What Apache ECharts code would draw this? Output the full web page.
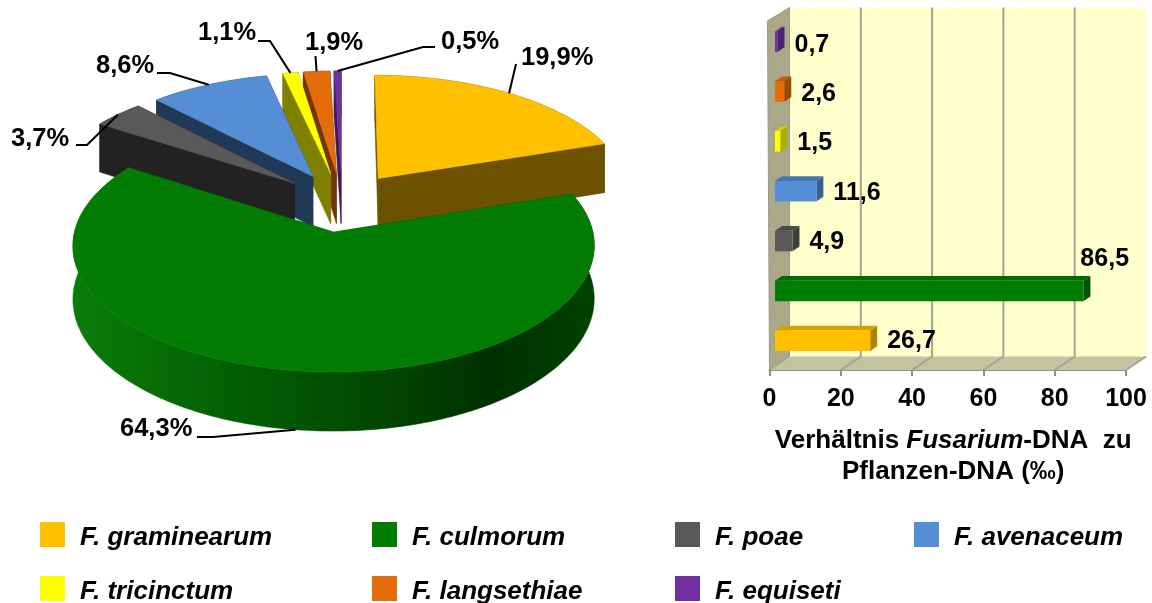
<!DOCTYPE html>
<html><head><meta charset="utf-8">
<style>html,body{margin:0;padding:0;background:#fff}#c{width:1152px;height:603px}</style>
<script src="https://cdn.jsdelivr.net/npm/echarts@6/dist/echarts.min.js"></script>
</head><body><div id="c"></div>
<script>
// ---- data ----
const species = ['F. graminearum','F. culmorum','F. poae','F. avenaceum','F. tricinctum','F. langsethiae','F. equiseti'];
const pieShares = [19.9,64.3,3.7,8.6,1.1,1.9,0.5];
const pieLabels = ['19,9%','64,3%','3,7%','8,6%','1,1%','1,9%','0,5%'];
const barValues = [26.7,86.5,4.9,11.6,1.5,2.6,0.7];
const barLabels = ['26,7','86,5','4,9','11,6','1,5','2,6','0,7'];
const xTicks = [0,20,40,60,80,100];

// ---- style / layout ----
const FONT = '"Liberation Sans", Arial, sans-serif';
const colors = ['#ffc000','#027c02','#595959','#558ed5','#ffff00','#e46c0a','#7030a0'];
const sideShade = [0.42,0.5,0.38,0.4,0.5,0.5,0.55];
const paintOrder = [6,5,4,3,2,0,1];
const legendPos = [[40,522],[372,522],[675,522],[914,522],[40,576],[372,576],[675,576]];
const barLabelDy = [0,0,1,2,2,3,3];
// label anchor, leader-line start and optional elbow
const pieCallouts = [
  {x:521,y:58,start:[516,64]},
  {x:120,y:428.5,start:[197,437],elbow:[213,437],wall:true},
  {x:11,y:139,start:[76,145],elbow:[87,145]},
  {x:96,y:66,start:[157,73],elbow:[170,73]},
  {x:198,y:33,start:[258,41],elbow:[270,41]},
  {x:305,y:43,start:[315.5,56]},
  {x:441,y:42,start:[435,47],elbow:[423,47]}
];
// pie projection
const P = {cx:342, cy:202, A:252.5, B:118.5, k:0.104, depth:51.5, explode:0.25};
function proj(u,v,down){
  const s = 1/(1+P.k*v);
  return [P.cx + P.A*u*s, P.cy - P.B*v*s + (down?P.depth*s:0)];
}
function shade(hex,f){
  const n=parseInt(hex.slice(1),16);
  const c=[(n>>16)&255,(n>>8)&255,n&255].map(x=>Math.round(x*f));
  return 'rgb('+c.join(',')+')';
}
const rad = d=>d*Math.PI/180;
// cumulative angles (clockwise from 12 o'clock)
const total = pieShares.reduce((a,b)=>a+b,0);
let acc=0;
const angles = pieShares.map(p=>{const a=acc/total*360;acc+=p;return [a,acc/total*360];});

function sliceRender(i){
  return function(){
    const [t0,t1]=angles[i], mid=(t0+t1)/2;
    const eu=P.explode*Math.sin(rad(mid)), ev=P.explode*Math.cos(rad(mid));
    const pt=(t,down)=>proj(eu+Math.sin(rad(t)),ev+Math.cos(rad(t)),down);
    const apexT=proj(eu,ev,false), apexB=proj(eu,ev,true);
    const arcT=[],arcB=[];
    for(let t=t0;;t+=1){const tt=Math.min(t,t1);arcT.push(pt(tt,false));arcB.push(pt(tt,true));if(tt>=t1)break;}
    const side=shade(colors[i],sideShade[i]);
    const wallFill = i===1
      ? new echarts.graphic.LinearGradient(0,0,1,0,[
          {offset:0,color:'#0a7d0a'},{offset:0.3,color:'#036003'},{offset:0.6,color:'#014601'},
          {offset:0.8,color:'#003000'},{offset:1,color:'#004200'}])
      : side;
    const poly=(points,fill)=>({type:'polygon',shape:{points},style:{fill,stroke:fill,lineWidth:0.5}});
    const children=[
      poly(arcT.concat(arcB.slice().reverse()),wallFill),
      poly([apexT,arcT[0],arcB[0],apexB],side),
      poly([apexT,arcT[arcT.length-1],arcB[arcB.length-1],apexB],side),
      poly([apexT].concat(arcT),colors[i])
    ];
    const c=pieCallouts[i];
    const end=pt(mid,!!c.wall);
    const pts=[c.start].concat(c.elbow?[c.elbow]:[]).concat([end]);
    children.push({type:'polyline',shape:{points:pts},style:{fill:null,stroke:'#000',lineWidth:2}});
    children.push({type:'text',style:{text:pieLabels[i],x:c.x,y:c.y,fill:'#000',
      font:'bold 25.5px '+FONT,align:'left',verticalAlign:'middle'}});
    return {type:'group',children};
  };
}
const pieSeries = paintOrder.map((i,z)=>({
  type:'custom',name:species[i],coordinateSystem:'none',silent:true,z:2+z,
  itemStyle:{color:colors[i]},data:[[pieShares[i]]],renderItem:sliceRender(i)
}));

// bar 3D geometry
const WALL={dx:20,dy:-13.5};
const BAR={dx:5.5,dy:-4.3,h:20.5,ddx:7,ddy:-4.7};
const wallSeries={type:'custom',name:'walls',silent:true,z:1,xAxisIndex:0,yAxisIndex:0,
  data:xTicks.map(t=>[t,0]),encode:{x:0,y:1},
  renderItem(params,api){
    const cs=params.coordSys;
    const L=cs.x,R=cs.x+cs.width,B=cs.y+cs.height,T=cs.y;
    const d=WALL;
    const x=api.coord([api.value(0),0])[0];
    const ch=[];
    if(params.dataIndex===0){
      ch.push({type:'polygon',shape:{points:[[L+d.dx,T+d.dy],[R+d.dx,T+d.dy],[R+d.dx,B+d.dy],[L+d.dx,B+d.dy]]},style:{fill:'#ffffcc'}});
      ch.push({type:'polygon',shape:{points:[[L,B],[R,B],[R+d.dx,B+d.dy],[L+d.dx,B+d.dy]]},style:{fill:'#c3c3a0'}});
      ch.push({type:'polygon',shape:{points:[[L-2,T],[L+d.dx,T+d.dy],[L+d.dx,B+d.dy],[L,B]]},style:{fill:'#a9a98a',stroke:'#9a9a90',lineWidth:1}});
    }
    if(params.dataIndex>0){
      const last=params.dataIndex===xTicks.length-1;
      const pts=last?[[x,B],[x+d.dx,B+d.dy]]:[[x,B],[x+d.dx,B+d.dy],[x+d.dx,T+d.dy]];
      ch.push({type:'polyline',shape:{points:pts},style:{fill:null,stroke:'#a3a396',lineWidth:2}});
    }
    return {type:'group',children:ch};
  }
};
const barSeries={type:'custom',name:'bars',silent:true,z:2,xAxisIndex:0,yAxisIndex:0,
  data:barValues.map((v,i)=>[v,i]),encode:{x:0,y:1},
  renderItem(params,api){
    const i=params.dataIndex, v=api.value(0);
    const p0=api.coord([0,i]), p1=api.coord([v,i]);
    const x0=p0[0]+BAR.dx, x1=p1[0]+BAR.dx, yc=p0[1]+BAR.dy;
    const t=yc-BAR.h/2,b=yc+BAR.h/2,ddx=BAR.ddx,ddy=BAR.ddy;
    const col=colors[i];
    const label = v>80
      ? {x:x1-3,y:t-22,align:'left'}
      : {x:x1+ddx+10,y:yc+barLabelDy[i],align:'left'};
    return {type:'group',children:[
      {type:'polygon',shape:{points:[[x0,t],[x1,t],[x1+ddx,t+ddy],[x0+ddx,t+ddy]]},style:{fill:shade(col,0.84)}},
      {type:'polygon',shape:{points:[[x1,t],[x1+ddx,t+ddy],[x1+ddx,b+ddy],[x1,b]]},style:{fill:shade(col,0.68)}},
      {type:'rect',shape:{x:x0,y:t,width:x1-x0,height:b-t},style:{fill:col}},
      {type:'text',style:{text:barLabels[i],x:label.x,y:label.y,fill:'#000',font:'bold 25px '+FONT,align:label.align,verticalAlign:'middle'}}
    ]};
  }
};

const chart=echarts.init(document.getElementById('c'),null,{renderer:'canvas'});
chart.setOption({
  animation:false,
  backgroundColor:'#fff',
  grid:{left:769.5,top:21,width:356.5,height:349,containLabel:false},
  xAxis:{type:'value',min:0,max:100,interval:20,
    axisLine:{show:true,lineStyle:{color:'#8f8f8f',width:2}},
    axisTick:{show:true,length:6,lineStyle:{color:'#8f8f8f',width:2}},
    splitLine:{show:false},
    axisLabel:{color:'#000',fontFamily:FONT,fontWeight:'bold',fontSize:25,margin:17,hideOverlap:false,showMinLabel:true,showMaxLabel:true},
    name:'{a|Verhältnis }{i|Fusarium}{a|-DNA  zu}\n{a|Pflanzen-DNA (‰)}',
    nameLocation:'middle',nameGap:55,
    nameTextStyle:{fontFamily:FONT,color:'#000',padding:[0,0,0,11],lineHeight:31,
      rich:{a:{fontFamily:FONT,fontWeight:'bold',fontSize:26,lineHeight:31,color:'#000'},
            i:{fontFamily:FONT,fontWeight:'bold',fontStyle:'italic',fontSize:26,lineHeight:31,color:'#000'}}}
  },
  yAxis:{type:'category',data:species,axisLine:{show:false},axisTick:{show:false},axisLabel:{show:false},splitLine:{show:false}},
  legend:species.map((s,i)=>({
    left:legendPos[i][0],top:legendPos[i][1],padding:0,itemWidth:25,itemHeight:31,selectedMode:false,
    icon:'path://M0,0H25V25H0Z M0,31L25,31',data:[{name:s,itemStyle:{color:colors[i]}}],
    textStyle:{color:'#000',fontFamily:FONT,fontWeight:'bold',fontStyle:'italic',fontSize:26,padding:[0,0,0,10]}
  })),
  series:[wallSeries,barSeries].concat(pieSeries)
});
</script></body></html>
